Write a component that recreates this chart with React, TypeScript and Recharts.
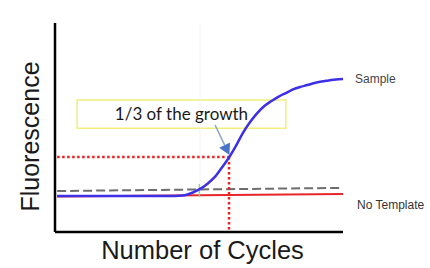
import React from 'react';
import { LineChart, Line, XAxis, YAxis, ReferenceLine, ReferenceArea, ReferenceDot, Label } from 'recharts';

// Cycle numbers and fluorescence readings (arbitrary units, 0-100)
const cycles = [0,1,2,3,4,5,6,7,8,9,10,11,12,13,14,15,16,17,18,19,20,21,22,23,24,25,26,27,28,29,30,31,32,33,34,35,36,37,38,39,40];
const sample = [17.2,17.2,17.2,17.2,17.2,17.2,17.2,17.2,17.2,17.2,17.2,17.2,17.2,17.2,17.2,17.2,17.2,17.3,17.7,18.9,20.6,23.0,26.1,30.6,35.4,41.1,47.4,52.6,56.9,60.3,62.7,64.8,66.5,68.2,69.4,70.3,71.3,72.0,72.5,73.0,73.2];
const edgeCycles = [0, 40];
const background = [19.6, 21.1];
const noTemplate = [17.0, 18.2];
const thresholdValue = 35.9;
const thresholdCycle = 24.05;
const sampleLabel = 'Sample';
const noTemplateLabel = 'No Template';
const annotationText = '1/3 of the growth';
const xTitle = 'Number of Cycles';
const yTitle = 'Fluorescence';

const sampleData = cycles.map((c, i) => ({ c, v: sample[i] }));
const backgroundData = edgeCycles.map((c, i) => ({ c, v: background[i] }));
const noTemplateData = edgeCycles.map((c, i) => ({ c, v: noTemplate[i] }));

const ArrowShape = (p: any) => {
  const { x1, y1, x2, y2 } = p;
  if ([x1, y1, x2, y2].some((v) => typeof v !== 'number' || isNaN(v))) return null;
  const ang = Math.atan2(y2 - y1, x2 - x1);
  const len = 11;
  const w = 6;
  const bx = x2 - len * Math.cos(ang);
  const by = y2 - len * Math.sin(ang);
  const px = -Math.sin(ang) * w;
  const py = Math.cos(ang) * w;
  return (
    <g>
      <line x1={x1} y1={y1} x2={bx} y2={by} stroke="#8ea3c9" strokeWidth={1.5} />
      <polygon points={`${x2},${y2} ${bx + px},${by + py} ${bx - px},${by - py}`} fill="#4a73c8" />
    </g>
  );
};

export default function App() {
  return (
    <div style={{ position: 'absolute', left: 0, top: 0, width: 430, height: 268, background: '#fff' }}>
      <LineChart width={430} height={268} margin={{ top: 23, right: 87, left: 45, bottom: 26 }}>
        <XAxis
          dataKey="c"
          type="number"
          domain={[-0.3, 40]}
          allowDataOverflow
          tick={false}
          tickLine={false}
          height={10}
          axisLine={{ stroke: '#000', strokeWidth: 2.5 }}
        >
          <Label
            content={(props: any) => {
              const vb = props.viewBox || {};
              return (
                <text x={vb.x + vb.width / 2 + 3.5} y={259} textAnchor="middle" fontSize={25.5} fontFamily="Liberation Sans" fill="#1a1a1a">
                  {xTitle}
                </text>
              );
            }}
          />
        </XAxis>
        <YAxis
          type="number"
          domain={[0, 100]}
          allowDataOverflow
          tick={false}
          tickLine={false}
          width={10}
          axisLine={{ stroke: '#000', strokeWidth: 2.5 }}
        >
          <Label
            content={(props: any) => {
              const vb = props.viewBox || {};
              const cy = vb.y + vb.height / 2 + 9;
              return (
                <text x={39} y={cy} transform={`rotate(-90 39 ${cy})`} textAnchor="middle" fontSize={25} fontFamily="Liberation Sans" fill="#1a1a1a">
                  {yTitle}
                </text>
              );
            }}
          />
        </YAxis>
        <ReferenceLine segment={[{ x: 20, y: 24 }, { x: 20, y: 100 }]} stroke="#f2f2f2" strokeWidth={1} />
        <ReferenceArea
          x1={2.8}
          x2={32}
          y1={49.6}
          y2={63.2}
          fill="#fff"
          fillOpacity={1}
          stroke="#f1ef7a"
          strokeWidth={1.5}
          label={{ value: annotationText, position: 'center', fontSize: 17, fontFamily: 'Lato', fill: '#1a1a1a' }}
        />
        <Line data={backgroundData} dataKey="v" stroke="#6e6e6e" strokeWidth={2} strokeDasharray="9 4" dot={false} isAnimationActive={false} />
        <Line data={noTemplateData} dataKey="v" stroke="#e8262a" strokeWidth={2} dot={false} isAnimationActive={false} />
        <ReferenceLine segment={[{ x: 19.9, y: 16.7 }, { x: 19.9, y: 23 }]} stroke="#9ad48a" strokeWidth={1.5} />
        <ReferenceLine segment={[{ x: 0, y: thresholdValue }, { x: thresholdCycle, y: thresholdValue }]} stroke="#ee2222" strokeWidth={2.5} strokeDasharray="2.5 2.5" />
        <ReferenceLine segment={[{ x: thresholdCycle, y: thresholdValue }, { x: thresholdCycle, y: 0 }]} stroke="#ee2222" strokeWidth={2.5} strokeDasharray="2.5 2.5" />
        <Line data={sampleData} dataKey="v" type="monotone" stroke="#3d30e6" strokeWidth={2.5} dot={false} isAnimationActive={false} />
        <ReferenceLine segment={[{ x: 22.1, y: 51.2 }, { x: 24.1, y: 36.8 }]} shape={ArrowShape} />
        <ReferenceDot x={40} y={73.2} r={1} fill="none" stroke="none" ifOverflow="visible"
          label={{ value: sampleLabel, position: 'right', offset: 11, fontSize: 12, fontFamily: 'Liberation Sans', fill: '#444' }} />
        <ReferenceDot x={40} y={12.9} r={1} fill="none" stroke="none" ifOverflow="visible"
          label={{ value: noTemplateLabel, position: 'right', offset: 13, fontSize: 12, fontFamily: 'Liberation Sans', fill: '#333' }} />
      </LineChart>
    </div>
  );
}
